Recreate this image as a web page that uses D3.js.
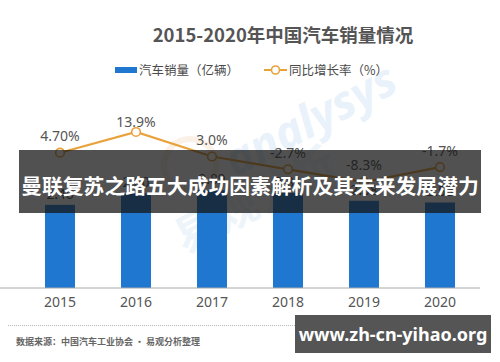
<!DOCTYPE html>
<html><head><meta charset="utf-8">
<script src="https://cdn.jsdelivr.net/npm/d3@7"></script>
<style>
html,body{margin:0;padding:0;background:#fff;}
svg{display:block;font-family:"Noto Sans CJK SC","Noto Sans",sans-serif;}
</style></head>
<body>
<svg id="c" width="500" height="362"></svg>
<script>
const years = ["2015","2016","2017","2018","2019","2020"];
const sales = [2.46, 2.80, 2.89, 2.81, 2.58, 2.53];
const growth = [4.7, 13.9, 3.0, -2.7, -8.3, -1.7];
const growthLabels = ["4.70%","13.9%","3.0%","-2.7%","-8.3%","-1.7%"];
const titleText = "2015-2020年中国汽车销量情况";
const legendBar = "汽车销量（亿辆）";
const legendLine = "同比增长率（%）";
const sourceText = "数据来源：中国汽车工业协会 · 易观分析整理";
const bannerText = "曼联复苏之路五大成功因素解析及其未来发展潜力";
const siteText = "www.zh-cn-yihao.org";

const svg = d3.select("#c");
const blue = "#1f77d0", orange = "#e9a23b", txt = "#555";

// faint background watermark
const wm = svg.append("g").attr("opacity",0.25);
wm.append("text").attr("transform","translate(235,178) rotate(-28)")
  .attr("font-size",46).attr("font-weight","bold").attr("font-style","italic")
  .attr("fill","#a9cdef").attr("font-family","Noto Sans").text("analysys");
wm.append("text").attr("transform","translate(185,255) rotate(-28)")
  .attr("font-size",44).attr("font-weight","bold")
  .attr("fill","#b9d8f3").text("易观分析");
wm.append("circle").attr("cx",190).attr("cy",165).attr("r",26)
  .attr("fill","none").attr("stroke","#f3c9a3").attr("stroke-width",6);

// title
svg.append("text").attr("x",283).attr("y",42).attr("text-anchor","middle")
  .attr("font-size",18.5).attr("font-weight","bold").attr("fill",txt).text(titleText);

// legend
svg.append("rect").attr("x",115).attr("y",67).attr("width",22).attr("height",6).attr("fill",blue);
svg.append("text").attr("x",139).attr("y",75).attr("font-size",12.5).attr("fill","#4a4a4a").text(legendBar);
svg.append("line").attr("x1",264).attr("x2",287).attr("y1",70).attr("y2",70)
  .attr("stroke",orange).attr("stroke-width",2);
svg.append("circle").attr("cx",275.5).attr("cy",70).attr("r",4)
  .attr("fill","#fff").attr("stroke",orange).attr("stroke-width",1.6);
svg.append("text").attr("x",289).attr("y",75).attr("font-size",12.5).attr("fill","#4a4a4a").text(legendLine);

// scales
const x = d3.scaleBand().domain(years).range([22,478]).paddingInner(0.605).paddingOuter(0.3025);
const y = d3.scaleLinear().domain([0,3]).range([288,186.6]);
const y2 = d3.scaleLinear().domain([-10,15]).range([185.8,129.5]);
const cx = d => x(d) + x.bandwidth()/2;

// bars
svg.append("g").selectAll("rect").data(years).join("rect")
  .attr("x",d=>x(d)).attr("width",x.bandwidth())
  .attr("y",(d,i)=>y(sales[i])).attr("height",(d,i)=>y(0)-y(sales[i]))
  .attr("fill",blue);
svg.append("g").selectAll("text").data(years).join("text")
  .attr("x",cx).attr("y",(d,i)=>y(sales[i])-6).attr("text-anchor","middle")
  .attr("font-size",14).attr("fill",txt).text((d,i)=>sales[i].toFixed(2));

// x axis
const xAxis = svg.append("g").attr("transform","translate(0,288)")
  .call(d3.axisBottom(x).tickSize(0).tickPadding(9));
xAxis.select(".domain").attr("d","M0,0.5H480").attr("stroke","#aaa").attr("transform","translate(0,-0.5)");
xAxis.selectAll("text").attr("font-size",14).attr("fill",txt)
  .attr("font-family","Noto Sans").attr("dy","0.71em");

// line
const line = d3.line().x((d,i)=>cx(years[i])).y(d=>y2(d));
svg.append("path").datum(growth).attr("d",line).attr("fill","none")
  .attr("stroke",orange).attr("stroke-width",2.2);
svg.append("g").selectAll("circle").data(growth).join("circle")
  .attr("cx",(d,i)=>cx(years[i])).attr("cy",d=>y2(d)).attr("r",4.3)
  .attr("fill","#fff").attr("stroke",orange).attr("stroke-width",1.6);
svg.append("g").selectAll("text").data(growth).join("text")
  .attr("x",(d,i)=>cx(years[i])).attr("y",d=>Math.max(y2(d)-11.5,126.7))
  .attr("text-anchor","middle").attr("font-size",14).attr("fill",txt)
  .attr("font-family","Noto Sans").text((d,i)=>growthLabels[i]);

// banner overlay
svg.append("rect").attr("x",19).attr("y",150).attr("width",462).attr("height",63)
  .attr("fill","rgba(20,20,20,0.74)");
svg.append("text").attr("x",250).attr("y",194).attr("text-anchor","middle")
  .attr("font-size",20.8).attr("font-weight","bold").attr("fill","#fff").text(bannerText);

// footer
svg.append("line").attr("x1",8).attr("x2",490).attr("y1",325.5).attr("y2",325.5)
  .attr("stroke","#bbb").attr("stroke-width",1).attr("stroke-dasharray","1,1");
svg.append("text").attr("x",16).attr("y",345).attr("font-size",9).attr("fill","#666")
  .attr("font-weight","bold").text(sourceText);

svg.append("rect").attr("x",295).attr("y",315).attr("width",196).attr("height",38).attr("fill","#555");
svg.append("text").attr("x",393).attr("y",341).attr("text-anchor","middle")
  .attr("font-size",18).attr("font-weight","bold").attr("fill","#fff")
  .attr("font-family","Noto Sans").text(siteText);
</script>
</body></html>
